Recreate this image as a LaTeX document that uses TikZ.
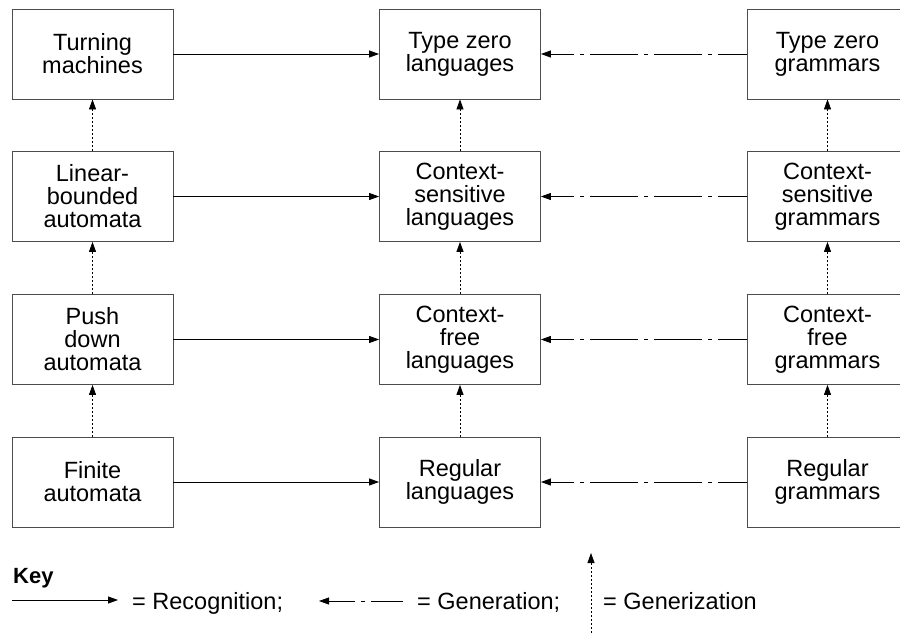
\documentclass[tikz,border=0pt]{standalone}
\usepackage{fontspec}
\setmainfont{Liberation Sans}
\usetikzlibrary{arrows.meta}
\begin{document}
\begin{tikzpicture}[x=1pt,y=-1pt,
  box/.style={draw=black!70,line width=0.8pt,minimum width=161pt,minimum height=90pt,inner sep=0pt,align=center,font=\fontsize{23.5}{23}\selectfont},
  recog/.style={-{Triangle[length=10pt,width=7pt]},line width=0.8pt},
  gen/.style={-{Triangle[length=10pt,width=7pt]},line width=0.8pt,dash pattern=on 48pt off 6pt on 4pt off 6pt,dash phase=19pt},
  geniz/.style={-{Triangle[length=10pt,width=7pt]},line width=0.8pt,dash pattern=on 2pt off 2pt},
  lbl/.style={font=\fontsize{23.5}{23}\selectfont,inner sep=0pt,anchor=base west}]
\useasboundingbox (0,0) rectangle (900,634);
\clip (0,0) rectangle (900,634);
% row 1
\node[box] (tm)  at (92.5,54)  {Turning\\machines};
\node[box] (tzl) at (460,54)   {Type zero\\languages};
\node[box] (tzg) at (827.5,54) {Type zero\\grammars};
% row 2
\node[box] (lba) at (92.5,196.5)  {Linear-\\bounded\\automata};
\node[box] (csl) at (460,196.5)   {Context-\\sensitive\\languages};
\node[box] (csg) at (827.5,196.5) {Context-\\sensitive\\grammars};
% row 3
\node[box] (pda) at (92.5,339.5)  {Push\\down\\automata};
\node[box] (cfl) at (460,339.5)   {Context-\\free\\languages};
\node[box] (cfg) at (827.5,339.5) {Context-\\free\\grammars};
% row 4
\node[box] (fa) at (92.5,482)  {Finite\\automata};
\node[box] (rl) at (460,482)   {Regular\\languages};
\node[box] (rg) at (827.5,482) {Regular\\grammars};
% recognition
\draw[recog] (tm) -- (tzl);
\draw[recog] (lba) -- (csl);
\draw[recog] (pda) -- (cfl);
\draw[recog] (fa) -- (rl);
% generation
\draw[gen] (tzg) -- (tzl);
\draw[gen] (csg) -- (csl);
\draw[gen] (cfg) -- (cfl);
\draw[gen] (rg) -- (rl);
% generization
\foreach \a/\b in {lba/tm,pda/lba,fa/pda,csl/tzl,cfl/csl,rl/cfl,csg/tzg,cfg/csg,rg/cfg}
  \draw[geniz] (\a.north) -- (\b.south);
% key
\node[font=\bfseries\fontsize{22}{22}\selectfont,inner sep=0pt,anchor=base west] (key) at (13,583) {Key};
\coordinate (r1) at (12,600);
\coordinate (r2) at (118,600);
\draw[recog] (r1) -- (r2);
\node[lbl] (rtxt) at (132,609) {= Recognition;};
\coordinate (g1) at (403,601);
\coordinate (g2) at (319,601);
\draw[gen,dash phase=16pt] (g1) -- (g2);
\node[lbl] (gtxt) at (417,609) {= Generation;};
\coordinate (z1) at (591,633);
\coordinate (z2) at (591,553);
\draw[geniz] (z1) -- (z2);
\node[lbl] (ztxt) at (603,609) {= Generization};
\end{tikzpicture}
\end{document}
